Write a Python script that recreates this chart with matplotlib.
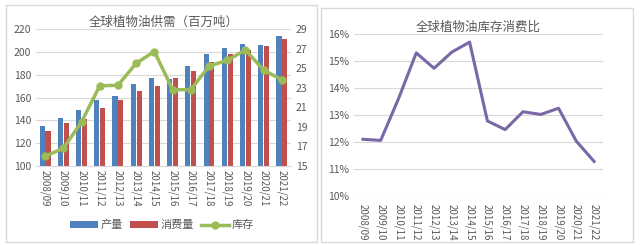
import numpy as np
import matplotlib
matplotlib.use("Agg")
import matplotlib.pyplot as plt
from matplotlib.patches import Rectangle
from matplotlib.ticker import PercentFormatter

plt.rcParams['font.family'] = ['Noto Sans CJK SC', 'DejaVu Sans']

years = ["2008/09", "2009/10", "2010/11", "2011/12", "2012/13", "2013/14", "2014/15",
         "2015/16", "2016/17", "2017/18", "2018/19", "2019/20", "2020/21", "2021/22"]
production = [135, 142, 149, 158, 161, 172, 177.5, 176, 188, 198, 203, 207, 206, 214]
consumption = [131, 138, 141, 151, 158, 166, 170, 177, 183, 191, 198, 201.5, 205, 211]
stocks = [16.0, 16.8, 19.5, 23.2, 23.25, 25.5, 26.7, 22.8, 22.8, 25.2, 25.8, 26.85, 24.8, 23.8]
ratio = [12.1, 12.06, 13.6, 15.3, 14.73, 15.33, 15.7, 12.78, 12.46, 13.12, 13.02, 13.25, 12.03, 11.28]

blue = "#4F81BD"
red = "#C0504D"
green = "#9BBB59"
purple = "#7A68A6"
txt = "#595959"
grid = "#D9D9D9"

fig = plt.figure(figsize=(6.4, 2.45), dpi=100)

# panel borders
fig.patches.append(Rectangle((6/640, 3/245), 311/640, 237/245, transform=fig.transFigure,
                             fill=False, edgecolor="#D9D9D9", linewidth=1))
fig.patches.append(Rectangle((321/640, 3/245), 312/640, 234/245, transform=fig.transFigure,
                             fill=False, edgecolor="#D9D9D9", linewidth=1))

x = np.arange(len(years))

# left chart
ax = fig.add_axes([36/640, 79/245, 255/640, 137/245])
w = 0.28
ax.bar(x - 0.16, production, w, color=blue, label="产量", zorder=2)
ax.bar(x + 0.16, consumption, w, color=red, label="消费量", zorder=2)
ax.set_ylim(100, 220)
ax.set_yticks(range(100, 221, 20))
ax.set_xlim(-0.5, len(years) - 0.5)
ax.set_xticks(x)
ax.set_xticklabels(years, rotation=270, fontsize=7, color=txt)
ax.tick_params(axis='y', labelsize=7.5, colors=txt, length=0)
ax.tick_params(axis='x', length=0, pad=3)
ax.grid(axis='y', color=grid, linewidth=0.8, zorder=0)
for s in ["top", "right", "left"]:
    ax.spines[s].set_visible(False)
ax.spines["bottom"].set_color(grid)

ax2 = ax.twinx()
ax2.plot(x, stocks, color=green, linewidth=2.5, marker='o', markersize=5, label="库存", zorder=3)
ax2.set_ylim(15, 29)
ax2.set_yticks(range(15, 30, 2))
ax2.tick_params(axis='y', labelsize=7.5, colors=txt, length=0)
for s in ax2.spines.values():
    s.set_visible(False)

ax.set_title("全球植物油供需（百万吨）", fontsize=9, color=txt, pad=0)

h1, l1 = ax.get_legend_handles_labels()
h2, l2 = ax2.get_legend_handles_labels()
fig.legend(h1 + h2, l1 + l2, loc="center", bbox_to_anchor=(162/640, 1 - 225/245), ncol=3,
           frameon=False, fontsize=8, labelcolor=txt, handlelength=2.5, handletextpad=0.3,
           columnspacing=0.6, handleheight=0.6)

# right chart
bx = fig.add_axes([354/640, 49/245, 249/640, 162/245])
bx.plot(x, ratio, color=purple, linewidth=2.2, zorder=3)
bx.set_ylim(10, 16)
bx.set_yticks(range(10, 17))
bx.yaxis.set_major_formatter(PercentFormatter(decimals=0))
bx.set_xlim(-0.5, len(years) - 0.5)
bx.set_xticks(x)
bx.set_xticklabels(years, rotation=270, fontsize=7, color=txt)
bx.tick_params(axis='y', labelsize=7.5, colors=txt, length=0)
bx.tick_params(axis='x', length=0, pad=6)
bx.grid(axis='y', color=grid, linewidth=0.8, zorder=0)
for s in bx.spines.values():
    s.set_visible(False)
bx.set_title("全球植物油库存消费比", fontsize=9, color=txt, pad=1)

fig.savefig("out.png", dpi=100)
